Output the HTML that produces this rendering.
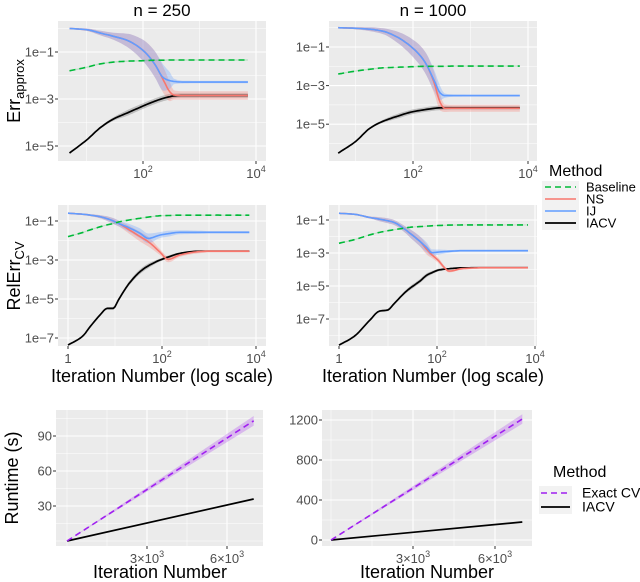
<!DOCTYPE html>
<html><head><meta charset="utf-8"><style>
html,body{margin:0;padding:0;background:#fff;}
svg{display:block;font-family:"Liberation Sans",sans-serif;}
</style></head><body>
<svg id="fig" width="640" height="582" viewBox="0 0 640 582" xmlns="http://www.w3.org/2000/svg"></svg>
<script>
// ---- data (log10 values for error panels) ----
const xTop = [5,10,18,30,52,100,160,230,300,350,500,1000,3000,7200];
const tlIJ = [0,-0.05,-0.2,-0.33,-0.5,-0.93,-1.5,-2.1,-2.22,-2.25,-2.28,-2.28,-2.28,-2.28];
const tlNS = [0,-0.05,-0.2,-0.33,-0.5,-0.93,-1.5,-2.2,-2.7,-2.83,-2.85,-2.85,-2.85,-2.85];
const tlBase = [-1.8,-1.65,-1.5,-1.43,-1.39,-1.37,-1.35,-1.35,-1.34,-1.34,-1.34,-1.34,-1.34,-1.34];
const tlIACV = [-5.3,-4.75,-4.2,-3.85,-3.6,-3.3,-3.1,-2.97,-2.9,-2.87,-2.85,-2.85,-2.85,-2.85];
const trIJ = [0,-0.03,-0.08,-0.18,-0.47,-1.07,-1.76,-2.7,-3.4,-3.52,-3.52,-3.52,-3.52,-3.52];
const trNS = [0,-0.03,-0.08,-0.18,-0.47,-1.07,-1.76,-2.8,-3.9,-4.17,-4.17,-4.17,-4.17,-4.17];
const trBase = [-2.4,-2.25,-2.15,-2.08,-2.05,-2.02,-2.0,-2.0,-2.0,-2.0,-1.99,-1.99,-1.99,-1.99];
const trIACV = [-6.5,-5.9,-5.2,-4.85,-4.6,-4.35,-4.25,-4.18,-4.15,-4.15,-4.15,-4.15,-4.15,-4.15];
const topSpreadIJ = [0.02,0.05,0.1,0.15,0.28,0.45,0.55,0.55,0.35,0.12,0.06,0.05,0.05,0.05];
const topSpreadNS = [0.02,0.05,0.1,0.15,0.28,0.45,0.55,0.55,0.4,0.2,0.18,0.18,0.18,0.18];

const xMidL = [1,2,3,4.8,6.8,9.2,11.8,20,34,51,91,135,240,630,1000,3000,7200];
const mlIJ = [-0.6,-0.65,-0.7,-0.78,-0.88,-1.0,-1.12,-1.35,-1.63,-1.89,-1.72,-1.65,-1.58,-1.58,-1.58,-1.58,-1.58];
const mlNS = [-0.6,-0.65,-0.7,-0.78,-0.88,-1.0,-1.12,-1.45,-1.8,-2.06,-2.6,-2.97,-2.74,-2.57,-2.55,-2.55,-2.55];
const mlBase = [-1.8,-1.6,-1.45,-1.3,-1.2,-1.13,-1.05,-0.95,-0.86,-0.8,-0.73,-0.72,-0.7,-0.7,-0.7,-0.7,-0.7];
const mlIACV = [-7.36,-6.93,-6.4,-5.82,-5.48,-5.48,-5.05,-4.2,-3.6,-3.3,-3.0,-2.85,-2.66,-2.55,-2.55,-2.55,-2.55];
const mlSpread = [0.03,0.04,0.05,0.08,0.12,0.15,0.15,0.2,0.25,0.25,0.15,0.15,0.1,0.08,0.06,0.06,0.06];

const xMidR = [1,2,4.3,6.7,10,12.6,23,28,45,63,78,112,133,178,320,1000,7200];
const mrIJ = [-0.59,-0.65,-0.85,-0.95,-1.05,-1.12,-1.6,-1.8,-2.3,-2.7,-2.98,-2.94,-2.92,-2.9,-2.86,-2.86,-2.86];
const mrNS = [-0.59,-0.65,-0.85,-0.95,-1.05,-1.12,-1.6,-1.8,-2.3,-2.82,-3.1,-3.52,-3.8,-4.1,-3.95,-3.89,-3.89];
const mrBase = [-2.41,-2.2,-1.9,-1.75,-1.65,-1.6,-1.48,-1.44,-1.4,-1.37,-1.35,-1.33,-1.32,-1.31,-1.3,-1.3,-1.3];
const mrIACV = [-8.58,-8.07,-7.06,-6.52,-6.45,-6.15,-5.35,-5.14,-4.7,-4.33,-4.2,-4.02,-3.99,-3.95,-3.9,-3.89,-3.89];
const mrSpread = [0.03,0.04,0.06,0.12,0.15,0.15,0.2,0.25,0.3,0.3,0.2,0.15,0.12,0.08,0.06,0.06,0.06];

const rtIter = [0,7000];
const rtExactL = [0,103];
const rtIacvL = [0,36];
const rtExactR = [0,1210];
const rtIacvR = [0,180];

const yTicksErrTop = [-1,-3,-5];
const yTicksErrMid = [-1,-3,-5,-7];
const xTicksLog = [0,2,4];
const yTicksRtL = [30,60,90];
const yTicksRtR = [0,400,800,1200];
const xTicksRt = [3000,6000];

// ---- helpers ----
const NS_='http://www.w3.org/2000/svg';
const svg=document.getElementById('fig');
function mk(tag,attrs,parent){const e=document.createElementNS(NS_,tag);for(const k in attrs)e.setAttribute(k,attrs[k]);(parent||svg).appendChild(e);return e;}
function txt(s,attrs,parent){const e=mk('text',attrs,parent);e.textContent=s;return e;}

// monotone cubic interpolation sampled into dense pixel points (x increasing)
function smooth(P){
  const n=P.length;if(n<3)return P.slice();
  const dx=[],s=[];for(let i=0;i<n-1;i++){dx[i]=P[i+1][0]-P[i][0];s[i]=(P[i+1][1]-P[i][1])/dx[i];}
  const m=[s[0]];for(let i=1;i<n-1;i++){m[i]=(s[i-1]*s[i]<=0)?0:(3*(dx[i-1]+dx[i]))/((2*dx[i]+dx[i-1])/s[i-1]+(dx[i]+2*dx[i-1])/s[i]);}
  m[n-1]=s[n-2];
  const out=[P[0]];
  for(let i=0;i<n-1;i++){const h=dx[i],K=Math.max(2,Math.ceil(h/2));
    for(let k=1;k<=K;k++){const t=k/K,t2=t*t,t3=t2*t;
      const y=(2*t3-3*t2+1)*P[i][1]+(t3-2*t2+t)*h*m[i]+(-2*t3+3*t2)*P[i+1][1]+(t3-t2)*h*m[i+1];
      out.push([P[i][0]+t*h,y]);}}
  return out;
}
function pts2d(Q){return Q.map((p,i)=>(i?'L':'M')+p[0].toFixed(1)+','+p[1].toFixed(1)).join('');}

function panel(name,x0,x1,y0,y1){
  const g=mk('g',{});
  
  
  const r=mk('rect',{x:x0,y:y0,width:x1-x0,height:y1-y0,fill:'#ebebeb'},g);
  
  
  return g;
}
function hgrid(g,x0,x1,y,major){mk('line',{x1:x0,x2:x1,y1:y,y2:y,stroke:'#fff','stroke-width':major?1.1:0.5},g);}
function vgrid(g,x,y0,y1,major){mk('line',{x1:x,x2:x,y1:y0,y2:y1,stroke:'#fff','stroke-width':major?1.1:0.5},g);}

function drawLine(g,xs,ys,fx,fy,color,dash,name,w){
  const P=xs.map((x,i)=>[fx(x),fy(ys[i])]);
  const p=mk('path',{d:pts2d(smooth(P)),fill:'none',stroke:color,'stroke-width':w||1.6,'stroke-linejoin':'round'},g);
  if(dash)p.setAttribute('stroke-dasharray',dash);
  
  
}
function drawBand(g,xs,lo,hi,fx,fy,color,op,name){
  const H=smooth(xs.map((x,i)=>[fx(x),fy(hi[i])]));
  const L=smooth(xs.map((x,i)=>[fx(x),fy(lo[i])])).reverse();
  const p=mk('path',{d:pts2d(H.concat(L))+'Z',fill:color,'fill-opacity':op,stroke:'none'},g);
  
  
}
function clip(id,x0,x1,y0,y1){const c=mk('clipPath',{id:id});mk('rect',{x:x0,y:y0,width:x1-x0,height:y1-y0},c);return 'url(#'+id+')';}

function logPanel(o){
  const g=panel(o.name,o.x0,o.x1,o.y0,o.y1);
  const fx=v=>o.xAt0+Math.log10(v)*o.xDec;
  const fxl=l=>o.xAt0+l*o.xDec;
  const fy=l=>o.yAtM1+(-1-l)*o.yDec;
  for(let l=-12;l<=2;l++){const y=fy(l);if(y>o.y0&&y<o.y1)hgrid(g,o.x0,o.x1,y,o.yTicks.includes(l));}
  for(let l=-1;l<=5;l++){const x=fxl(l);if(x>o.x0&&x<o.x1)vgrid(g,x,o.y0,o.y1,l%2===0);}
  const inner=mk('g',{'clip-path':clip(o.name+'-clip',o.x0,o.x1,o.y0,o.y1)},g);
  const lo=(a,s)=>a.map((v,i)=>v-s[i]), hi=(a,s)=>a.map((v,i)=>v+s[i]);
  const sIA=o.spreadNS.map(v=>Math.min(0.12,v*0.5));
  drawBand(inner,o.xs,lo(o.iacv,sIA),hi(o.iacv,sIA),fx,fy,'#555',0.3,'iacv-band');
  drawBand(inner,o.xs,lo(o.ns,o.spreadNS),hi(o.ns,o.spreadNS),fx,fy,'#f8766d',0.3,'ns-band');
  drawBand(inner,o.xs,lo(o.ij,o.spreadIJ),hi(o.ij,o.spreadIJ),fx,fy,'#619cff',0.3,'ij-band');
  drawBand(inner,o.xs,o.base.map(v=>v-0.03),o.base.map(v=>v+0.03),fx,fy,'#00ba38',0.2,'baseline-band');
  drawLine(inner,o.xs,o.iacv,fx,fy,'#000',null,'iacv-line',1.7);
  drawLine(inner,o.xs,o.ns,fx,fy,'#f8766d',null,'ns-line');
  drawLine(inner,o.xs,o.ij,fx,fy,'#619cff',null,'ij-line');
  drawLine(inner,o.xs,o.base,fx,fy,'#00ba38','6 4','baseline-line');
  o.yTicks.forEach(l=>{const y=fy(l);
    mk('line',{x1:o.x0-3,x2:o.x0,y1:y,y2:y,stroke:'#333','stroke-width':1},g);
    const t=txt('1e\u2212'+(-l),{x:o.x0-4,y:y+4.5,'text-anchor':'end','font-size':13,fill:'#4d4d4d'},g);
    });
  xTicksLog.forEach(l=>{const x=fxl(l);if(x<o.x0-1||x>o.x1+1)return;
    mk('line',{x1:x,x2:x,y1:o.y1,y2:o.y1+3,stroke:'#333','stroke-width':1},g);
    const t=mk('text',{x:x,y:o.y1+17,'text-anchor':'middle','font-size':13,fill:'#4d4d4d'},g);
    
    if(l===0){t.textContent='1';}else{t.textContent='10';const s=mk('tspan',{'font-size':9,dy:-6},t);s.textContent=l;}
  });
}

logPanel({name:'panel-err-n250',x0:58,x1:266,y0:21,y1:161,xAt0:143-2*56.5,xDec:56.5,yAtM1:52,yDec:23.5,xs:xTop,ij:tlIJ,ns:tlNS,base:tlBase,iacv:tlIACV,spreadIJ:topSpreadIJ,spreadNS:topSpreadNS,yTicks:yTicksErrTop});
logPanel({name:'panel-err-n1000',x0:329,x1:537,y0:21,y1:161,xAt0:413-2*57.5,xDec:57.5,yAtM1:47,yDec:19.3,xs:xTop,ij:trIJ,ns:trNS,base:trBase,iacv:trIACV,spreadIJ:topSpreadIJ,spreadNS:topSpreadNS,yTicks:yTicksErrTop});
logPanel({name:'panel-relerr-n250',x0:58,x1:266,y0:205,y1:346,xAt0:68,xDec:47,yAtM1:221,yDec:19.5,xs:xMidL,ij:mlIJ,ns:mlNS,base:mlBase,iacv:mlIACV,spreadIJ:mlSpread,spreadNS:mlSpread,yTicks:yTicksErrMid});
logPanel({name:'panel-relerr-n1000',x0:329,x1:537,y0:205,y1:346,xAt0:339,xDec:49,yAtM1:220,yDec:16.5,xs:xMidR,ij:mrIJ,ns:mrNS,base:mrBase,iacv:mrIACV,spreadIJ:mrSpread,spreadNS:mrSpread,yTicks:yTicksErrMid});

function rtPanel(o){
  const g=panel(o.name,o.x0,o.x1,o.y0,o.y1);
  const fx=v=>o.xz+v*o.xs;
  const fy=v=>o.yz-v*o.ys;
  const step=o.yTicks[1]-o.yTicks[0];
  for(let v=-step;v<=o.yTicks[o.yTicks.length-1]+step;v+=step/2){const y=fy(v);if(y>o.y0&&y<o.y1)hgrid(g,o.x0,o.x1,y,o.yTicks.includes(v));}
  for(let v=0;v<=9000;v+=1500){const x=fx(v);if(x>o.x0&&x<o.x1)vgrid(g,x,o.y0,o.y1,xTicksRt.includes(v));}
  drawBand(g,rtIter,o.exact.map(v=>v*0.96),o.exact.map(v=>v*1.04),fx,fy,'#a020f0',0.25,'exact-cv-band');
  drawLine(g,rtIter,o.iacv,fx,fy,'#000',null,'iacv-runtime-line',1.7);
  drawLine(g,rtIter,o.exact,fx,fy,'#a020f0','6 4','exact-cv-runtime-line');
  o.yTicks.forEach(v=>{const y=fy(v);if(y<o.y0||y>o.y1)return;
    mk('line',{x1:o.x0-3,x2:o.x0,y1:y,y2:y,stroke:'#333','stroke-width':1},g);
    const t=txt(String(v),{x:o.x0-4,y:y+4.5,'text-anchor':'end','font-size':13,fill:'#4d4d4d'},g);
    });
  xTicksRt.forEach(v=>{const x=fx(v);
    mk('line',{x1:x,x2:x,y1:o.y1,y2:o.y1+3,stroke:'#333','stroke-width':1},g);
    const t=mk('text',{x:x,y:o.y1+17,'text-anchor':'middle','font-size':13,fill:'#4d4d4d'},g);
    
    t.textContent=(v/1000)+'\u00d710';const s=mk('tspan',{'font-size':9,dy:-6},t);s.textContent='3';});
}
rtPanel({name:'panel-runtime-n250',x0:56,x1:263,y0:410,y1:546,xz:67,xs:80/3000,yz:541,ys:35/30,exact:rtExactL,iacv:rtIacvL,yTicks:yTicksRtL});
rtPanel({name:'panel-runtime-n1000',x0:322,x1:532,y0:410,y1:546,xz:331,xs:82/3000,yz:540,ys:40/400,exact:rtExactR,iacv:rtIacvR,yTicks:yTicksRtR});
</script>
<div style="position:absolute;left:0;top:0;width:640px;height:582px;pointer-events:none;">
<svg width="640" height="582" style="font-family:'Liberation Sans',sans-serif" xmlns="http://www.w3.org/2000/svg">
  <text x="162" y="16" text-anchor="middle" font-size="17">n = 250</text>
  <text x="433" y="16" text-anchor="middle" font-size="17">n = 1000</text>
  <text transform="translate(20,91) rotate(-90)" text-anchor="middle" font-size="18">Err<tspan font-size="13" dy="4">approx</tspan></text>
  <text transform="translate(20,276) rotate(-90)" text-anchor="middle" font-size="18">RelErr<tspan font-size="13" dy="4">CV</tspan></text>
  <text transform="translate(18,478) rotate(-90)" text-anchor="middle" font-size="18">Runtime (s)</text>
  <text x="162" y="382" text-anchor="middle" font-size="18">Iteration Number (log scale)</text>
  <text x="433" y="382" text-anchor="middle" font-size="18">Iteration Number (log scale)</text>
  <text x="160" y="578" text-anchor="middle" font-size="18">Iteration Number</text>
  <text x="427" y="578" text-anchor="middle" font-size="18">Iteration Number</text>
  <g>
    <text x="549" y="176" font-size="16">Method</text>
    <rect x="542" y="181" width="37" height="49" fill="#f2f2f2"/>
    <g><line x1="545" x2="576" y1="187" y2="187" stroke="#00ba38" stroke-width="1.6" stroke-dasharray="6 4"/><text x="586" y="191.5" font-size="13">Baseline</text></g>
    <g><line x1="545" x2="576" y1="199" y2="199" stroke="#f8766d" stroke-width="1.6"/><text x="586" y="203.5" font-size="13">NS</text></g>
    <g><line x1="545" x2="576" y1="211" y2="211" stroke="#619cff" stroke-width="1.6"/><text x="586" y="215.5" font-size="13">IJ</text></g>
    <g><line x1="545" x2="576" y1="223" y2="223" stroke="#000" stroke-width="1.7"/><text x="586" y="227.5" font-size="13">IACV</text></g>
  </g>
  <g>
    <text x="553" y="477" font-size="16">Method</text>
    <rect x="539" y="486" width="33" height="28" fill="#f2f2f2"/>
    <g><line x1="541" x2="570" y1="493" y2="493" stroke="#a020f0" stroke-width="1.6" stroke-dasharray="6 4"/><text x="582" y="497.5" font-size="14">Exact CV</text></g>
    <g><line x1="541" x2="570" y1="507" y2="507" stroke="#000" stroke-width="1.7"/><text x="582" y="511.5" font-size="14">IACV</text></g>
  </g>
</svg>
</div>
</body></html>
